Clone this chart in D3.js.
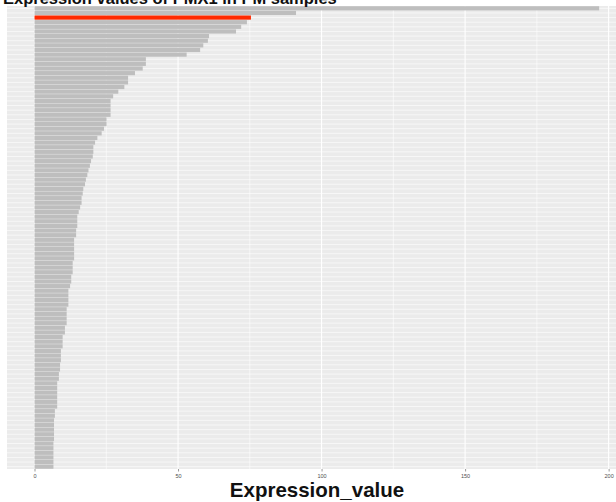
<!DOCTYPE html>
<html>
<head>
<meta charset="utf-8">
<script src="https://cdn.jsdelivr.net/npm/d3@7"></script>
<style>
  html, body { margin: 0; padding: 0; background: #fff; }
  svg { display: block; font-family: "Liberation Sans", Arial, sans-serif; }
</style>
</head>
<body>
<svg class="canvas" width="616" height="502"></svg>
<script>
'use strict';

// values, sorted high -> low (one bar per sample)
const expressionValues = [
  196.7, 91.1, 75.4, 74.0, 72.0, 70.2, 60.8, 60.4, 58.8, 57.7,
  53.0, 38.8, 38.8, 37.7, 35.0, 32.6, 32.6, 31.3, 29.2, 27.4,
  26.5, 26.5, 26.5, 26.5, 25.1, 25.1, 24.2, 23.4, 21.9, 21.1,
  20.5, 20.5, 20.3, 19.7, 19.3, 18.8, 18.4, 17.9, 17.6, 17.0,
  16.8, 16.4, 16.4, 15.9, 15.4, 14.9, 14.9, 14.9, 14.5, 14.5,
  13.8, 13.8, 13.8, 13.8, 13.8, 13.3, 13.3, 13.3, 12.8, 12.8,
  12.4, 11.8, 11.8, 11.8, 11.8, 11.2, 11.2, 11.2, 11.2, 10.6,
  10.6, 9.8, 9.8, 9.8, 9.2, 9.2, 9.2, 8.9, 8.9, 8.5,
  8.5, 7.9, 7.9, 7.9, 7.9, 7.9, 7.9, 7.1, 7.1, 6.8,
  6.8, 6.8, 6.8, 6.8, 6.6, 6.6, 6.6, 6.6, 6.6, 6.6
];
const highlightRank = 3; // the red bar
const xTicks = [0, 50, 100, 150, 200];
const xMinorTicks = [25, 75, 125, 175];
const titleText = 'Expression values of PMX1 in PM samples';
const xTitle = 'Expression_value';

const svg = d3.select('.canvas');
const panel = { left: 7, right: 627, top: 6, bottom: 469 };

const x = d3.scaleLinear()
  .domain([-9.58, 206.4])
  .range([panel.left, panel.right]);

const y = d3.scaleBand()
  .domain(d3.range(expressionValues.length))
  .range([panel.top, panel.bottom])
  .paddingInner(0.1)
  .paddingOuter(0.05);

// panel background
svg.append('rect')
  .attr('x', panel.left)
  .attr('y', panel.top)
  .attr('width', panel.right - panel.left)
  .attr('height', panel.bottom - panel.top)
  .style('fill', '#ebebeb');

// grid
const grid = svg.append('g').attr('class', 'grid');
grid.selectAll('.minor')
  .data(xMinorTicks)
  .enter()
  .append('line')
  .attr('x1', d => x(d)).attr('x2', d => x(d))
  .attr('y1', panel.top).attr('y2', panel.bottom)
  .style('stroke', '#fff').style('stroke-width', 0.6);
grid.selectAll('.major')
  .data(xTicks)
  .enter()
  .append('line')
  .attr('x1', d => x(d)).attr('x2', d => x(d))
  .attr('y1', panel.top).attr('y2', panel.bottom)
  .style('stroke', '#fff').style('stroke-width', 1.1);
grid.selectAll('.hline')
  .data(y.domain())
  .enter()
  .append('line')
  .attr('x1', panel.left).attr('x2', panel.right)
  .attr('y1', i => y(i) + y.bandwidth() / 2)
  .attr('y2', i => y(i) + y.bandwidth() / 2)
  .style('stroke', '#fff').style('stroke-width', 0.6);

// bars
svg.append('g')
  .selectAll('rect')
  .data(expressionValues)
  .enter()
  .append('rect')
  .attr('x', x(0))
  .attr('y', (d, i) => y(i))
  .attr('width', d => x(d) - x(0))
  .attr('height', y.bandwidth())
  .style('fill', (d, i) => (i + 1 === highlightRank ? '#ff2a00' : '#bebebe'));

// x axis
const xAxis = svg.append('g')
  .attr('transform', `translate(0,${panel.bottom})`)
  .call(d3.axisBottom(x).tickValues(xTicks).tickSize(2.5).tickPadding(3));
xAxis.select('.domain').remove();
xAxis.selectAll('line').style('stroke', '#333').style('stroke-width', 0.5);
xAxis.selectAll('text')
  .style('font-size', '5.5px')
  .style('fill', '#4d4d4d')
  .style('font-family', '"Liberation Sans", Arial, sans-serif');

// axis title
svg.append('text')
  .attr('x', (panel.left + panel.right) / 2)
  .attr('y', 497)
  .attr('text-anchor', 'middle')
  .style('font-size', '20.5px')
  .style('font-weight', 'bold')
  .style('fill', '#111')
  .text(xTitle);

// plot title (cut off at the top in the reference)
svg.append('text')
  .attr('x', 3)
  .attr('y', 3.5)
  .style('font-size', '16.5px')
  .style('font-weight', 'bold')
  .style('fill', '#111')
  .text(titleText);
</script>
</body>
</html>
